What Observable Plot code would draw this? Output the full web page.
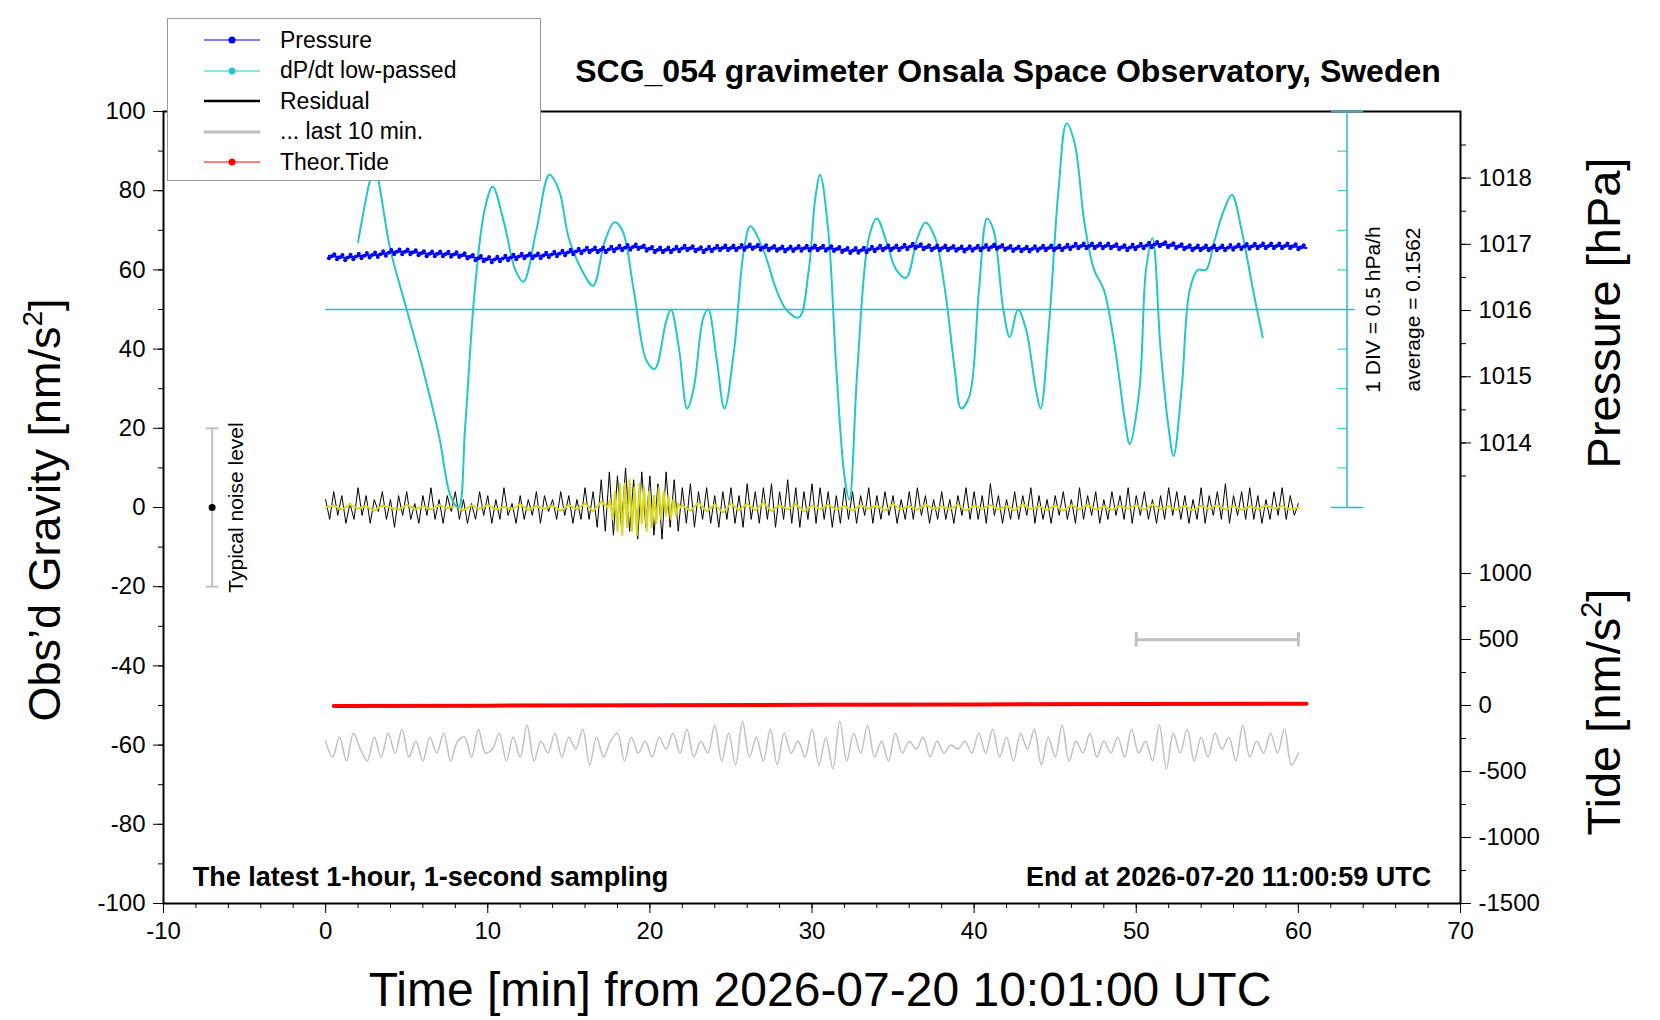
<!DOCTYPE html>
<html><head><meta charset="utf-8">
<script src="https://cdn.jsdelivr.net/npm/d3@7"></script>
<script src="https://cdn.jsdelivr.net/npm/@observablehq/plot@0.6"></script>
<style>
body{margin:0;background:#fff;font-family:"Liberation Sans",Arial,sans-serif;}
#wrap{position:relative;width:1660px;height:1020px;}
#legend{position:absolute;left:167px;top:18px;width:374px;height:163px;border:1px solid #999;background:#fff;box-sizing:border-box;font-size:23px;}
#legend .row{position:absolute;left:0;height:30px;display:flex;align-items:center;}
#legend svg{margin-left:36px;margin-right:20px;}
</style></head><body>
<div id="wrap"><div id="chart"></div>
<div id="legend"></div></div>
<script>
// ---- data ----
const dpdtTime=[2,2.7,3,4,5,6,7,7.7,8.2,8.6,9.2,9.8,10.3,11,11.7,12.2,13,13.8,14.4,15,15.8,16.5,17.2,17.8,18.3,19,19.8,20.3,21,21.3,21.8,22.3,22.7,23.3,23.6,24.1,24.6,25.2,25.8,26.2,27,27.8,28.4,29.2,29.8,30.2,30.5,31,31.5,32,32.3,32.8,33.5,34,34.6,35.2,35.8,36.5,37,37.6,38.2,38.8,39.2,39.7,40.3,40.8,41.2,41.8,42.2,42.7,43.2,43.8,44.1,44.6,45.2,45.7,46.2,46.8,47.4,48,48.7,49.3,49.6,50.2,50.6,51,51.5,52,52.3,52.8,53.3,53.8,54.3,54.8,55.4,55.9,56.5,57.2,57.8];
// dP/dt in plot units (10 units per division, average line at 50)
const dpdtDiv=[67,82,86,65,50,35,18,3,0,20,55,75,81,72,60,57,70,84,80,68,60,56,67,72,70,55,37,35,47,50,40,25,30,48,50,38,25,40,65,71,65,55,50,48,60,78,84,70,35,8,2,35,68,73,67,60,58,68,72,68,55,35,25,28,55,73,70,50,43,50,45,30,25,45,80,97,92,72,60,55,40,22,16,30,60,68,40,20,13,30,55,60,60,67,75,79,70,55,43];
const pressureHPa=[1016.826,1016.796,1016.826,1016.844,1016.886,1016.886,1016.856,1016.856,1016.844,1016.796,1016.766,1016.796,1016.826,1016.826,1016.856,1016.886,1016.916,1016.916,1016.946,1016.964,1016.916,1016.916,1016.946,1016.916,1016.946,1016.946,1016.964,1016.946,1016.928,1016.940,1016.946,1016.934,1016.904,1016.916,1016.946,1016.946,1016.976,1016.946,1016.946,1016.928,1016.946,1016.964,1016.934,1016.928,1016.946,1016.946,1016.976,1016.976,1016.976,1016.946,1016.976,1017.006,1016.976,1016.946,1016.946,1016.946,1016.964,1016.976,1016.976,1016.976,1016.946];
const residual=[2,-3,4,-2,3,-4,1,-3,5,-2,3,-4,2,-1,4,-3,2,-5,3,-2,
4,-3,1,-4,3,-2,5,-3,2,-4,3,-1,4,-3,2,-4,1,-3,4,-2,
3,-4,2,-3,5,-2,1,-4,3,-3,2,-2,4,-4,3,-1,2,-3,4,-2,
3,-4,2,-3,5,-3,4,-5,7,-6,9,-7,8,-5,10,-6,7,-8,9,-5,
8,-7,6,-8,9,-5,7,-6,5,-4,6,-5,4,-3,5,-4,3,-5,4,-3,
5,-4,3,-5,6,-3,4,-4,5,-3,6,-5,4,-3,7,-4,5,-5,4,-3,
6,-4,5,-3,4,-5,3,-4,5,-3,4,-4,3,-2,5,-4,3,-3,4,-2,
3,-4,2,-3,4,-3,5,-2,3,-4,2,-3,4,-3,2,-4,3,-2,5,-3,
4,-3,3,-4,6,-2,3,-4,2,-3,4,-3,3,-2,5,-4,3,-3,2,-4,
3,-2,4,-3,2,-4,5,-3,3,-2,4,-4,2,-3,4,-2,3,-3,5,-4,
3,-2,4,-3,2,-4,3,-3,5,-2,4,-3,3,-4,2,-3,5,-4,3,-2,
4,-3,6,-4,3,-2,4,-3,5,-3,3,-4,2,-3,4,-2,5,-3,3,-2,1];
const filtBefore=[0,0.5,-0.5,0.8,-0.3,0.4,-0.8,0.5,0,-0.6,0.7,-0.4,0.3,-0.5,0.6,-0.2,0.4,-0.7,0.5,-0.3,0.6,-0.5,0.2,-0.4,0.8,-0.6,0.3,-0.3,0.5,-0.8,0.6,-0.4,1,-1,1.5];
const filtBurst=[0,2,-3,4,-6,6,-7,6,-5,7,-6,5,-7,6,-4,5,-6,4,-5,3,-4,5,-3,4,-2,3,-3,2,-2,1,0];
const filtAfter=[0.5,-0.8,1.2,-1,0.8,-1.3,1,-0.6,0.9,-0.7,1.2,-0.9,0.6,-0.5,0.8,-1,0.5,-0.4,0.7,-0.6,0.4,-0.8,0.6,-0.3,0.5,-0.7,0.9,-0.5,0.4,-0.6,0.8,-0.4,0.3,-0.5,0.7,-0.8,0.5,-0.3,0.6,-0.5,0.4,-0.7,0.8,-0.4,0.3,-0.6,0.5,-0.8,0.6,-0.4,0.7,-0.5,0.3,-0.6,0.4,-0.3,0.6,-0.5,0.8,-0.4,0.3,-0.6,0.5,-0.7,0.4,-0.3,0.6,-0.5,0.4,-0.6,0.3,-0.4,0.5,-0.3,0.4,-0.5,0];
const last10=[1,-3,2,-4,3,-1,-4,2,-3,3,-2,4,-3,1,-4,2,-2,3,-4,1,
2,-3,4,-2,-1,3,-4,2,-3,5,-4,1,-2,3,-3,2,-1,4,-5,2,
-3,1,3,-4,2,-2,1,-3,2,-1,3,-2,4,-3,1,-2,5,-4,3,-5,
6,-3,2,-4,4,-5,3,-2,1,-3,4,-5,2,-6,6,-4,3,-2,5,-3,
1,-4,3,-2,1,-1,2,-3,1,-2,0,-1,1,-2,3,-2,4,-3,2,-4,
3,-1,4,-5,2,-3,5,-4,1,-2,3,-3,1,-2,2,-3,4,-2,1,-4,
5,-6,3,-2,4,-4,2,-3,3,-1,2,-4,5,-3,1,-2,3,-2,4,-5,-2];
const tideTime=[0.5,10,20,30,40,50,60.5];
const tideNm=[-4,-1,2,5,8,11,14];
const pressureTicks=[1014,1015,1016,1017,1018];
const tideTicks=[-1500,-1000,-500,0,500,1000];

// ---- mappings to left-axis units ----
const pG=p=>16.3+(p-1014)*16.72;
const tG=t=>-50+t/30;
const hy=d=>String(d).replace("−","-");

const pres=pressureHPa.map((p,i)=>({x:0.2+i*(60.3/60),y:pG(p)}));
const presDots=[];
pres.forEach((d,i)=>{ if(i<pres.length-1){ for(let k=0;k<6;k++){const f=k/6;presDots.push({x:d.x+f*(pres[i+1].x-d.x),y:d.y+f*(pres[i+1].y-d.y)+((k%3)-1)*0.6});}}});
const dp=dpdtTime.map((t,i)=>({x:t,y:dpdtDiv[i]}));
const res=residual.map((v,i)=>({x:i*60/(residual.length-1),y:v}));
const filt=[...filtBefore.map((v,i)=>({x:i*0.5,y:v})),...filtBurst.map((v,i)=>({x:17.4+i*0.15,y:v})),...filtAfter.map((v,i)=>({x:22+i*0.5,y:v}))];
const gray=last10.map((v,i)=>({x:i*60/(last10.length-1),y:-60+v}));
const tide=tideTime.map((t,i)=>({x:t,y:tG(tideNm[i])}));

const F="Liberation Sans, Arial, sans-serif";
const divTicks=d3.range(10,100,10);
const chart=Plot.plot({
  width:1660,height:1020,marginLeft:163,marginRight:200,marginTop:111,marginBottom:117,
  style:{fontFamily:F,fontSize:"24px",background:"#fff"},
  x:{domain:[-10,70]},y:{domain:[-100,100]},
  marks:[
    Plot.axisX({ticks:d3.range(-10,71,10),tickSize:10,tickPadding:8,label:null,fontSize:24,tickFormat:hy}),
    Plot.axisX({ticks:d3.range(-10,71,2),tickSize:5,tickFormat:()=>"",label:null}),
    Plot.axisY({ticks:d3.range(-100,101,20),tickSize:10,tickPadding:8,label:null,fontSize:24,tickFormat:hy}),
    Plot.axisY({ticks:d3.range(-100,101,10),tickSize:5,tickFormat:()=>"",label:null}),
    Plot.axisY({anchor:"right",ticks:pressureTicks.map(pG),tickFormat:(d,i)=>String(pressureTicks[i]),tickSize:10,tickPadding:8,label:null,fontSize:24}),
    Plot.axisY({anchor:"right",ticks:d3.range(1013.5,1019,0.5).map(pG).filter(g=>g<100),tickSize:5,tickFormat:()=>"",label:null}),
    Plot.axisY({anchor:"right",ticks:tideTicks.map(tG),tickFormat:(d,i)=>String(tideTicks[i]),tickSize:10,tickPadding:8,label:null,fontSize:24}),
    Plot.axisY({anchor:"right",ticks:d3.range(-1500,1001,250).map(tG),tickSize:5,tickFormat:()=>"",label:null}),
    Plot.frame({stroke:"#000",strokeWidth:2}),
    Plot.ruleY([50],{x1:0,x2:63.5,stroke:"#20c0c0",strokeWidth:1.3}),
    Plot.ruleX([63],{y1:0,y2:100,stroke:"#20c0c0",strokeWidth:1.5}),
    Plot.link(divTicks,{x1:62.4,x2:63,y1:d=>d,y2:d=>d,stroke:"#20c0c0"}),
    Plot.link([0,100],{x1:62,x2:64,y1:d=>d,y2:d=>d,stroke:"#20c0c0",strokeWidth:1.5}),
    Plot.text(["1 DIV = 0.5 hPa/h"],{x:64.6,y:50,rotate:-90,fontSize:21,fill:"#000"}),
    Plot.text(["average = 0.1562"],{x:67.1,y:50,rotate:-90,fontSize:21,fill:"#000"}),
    Plot.line(gray,{x:"x",y:"y",stroke:"#c0c0c0",strokeWidth:1.5,curve:"catmull-rom"}),
    Plot.ruleY([-33.4],{x1:50,x2:60,stroke:"#c0c0c0",strokeWidth:3}),
    Plot.ruleX([50,60],{y1:-31.6,y2:-35.2,stroke:"#c0c0c0",strokeWidth:3}),
    Plot.ruleX([-7],{y1:-20,y2:20,stroke:"#c0c0c0",strokeWidth:2}),
    Plot.link([-20,20],{x1:-7.4,x2:-6.6,y1:d=>d,y2:d=>d,stroke:"#c0c0c0",strokeWidth:2}),
    Plot.dot([0],{x:-7,y:0,r:3.5,fill:"#000"}),
    Plot.text(["Typical noise level"],{x:-5.5,y:0,rotate:-90,fontSize:21}),
    Plot.line(res,{x:"x",y:"y",stroke:"#000",strokeWidth:1}),
    Plot.line(filt,{x:"x",y:"y",stroke:"#d8d820",strokeWidth:2}),
    Plot.line(dp,{x:"x",y:"y",curve:"catmull-rom",stroke:"#20c8c8",strokeWidth:2}),
    Plot.line(pres,{x:"x",y:"y",stroke:"#0000ff",strokeWidth:2}),
    Plot.dot(presDots,{x:"x",y:"y",r:2,fill:"#0000ff"}),
    Plot.line(tide,{x:"x",y:"y",stroke:"#ff0000",strokeWidth:4}),
    Plot.text(["The latest 1-hour, 1-second sampling"],{x:-8.2,y:-93.5,textAnchor:"start",fontSize:27,fontWeight:"bold"}),
    Plot.text(["End at 2026-07-20 11:00:59 UTC"],{x:68.2,y:-93.5,textAnchor:"end",fontSize:27,fontWeight:"bold"}),
  ]
});
document.getElementById("chart").appendChild(chart);
const svg=d3.select(chart);
svg.append("text").attr("x",1008).attr("y",82).attr("text-anchor","middle").attr("font-size",32).attr("font-weight","bold").attr("font-family",F).text("SCG_054 gravimeter Onsala Space Observatory, Sweden");
svg.append("text").attr("x",820).attr("y",1006).attr("text-anchor","middle").attr("font-size",48).attr("font-family",F).text("Time [min] from 2026-07-20 10:01:00 UTC");
const lt=svg.append("text").attr("transform","translate(60,510) rotate(-90)").attr("text-anchor","middle").attr("font-size",45).attr("font-family",F);
lt.append("tspan").text("Obs’d Gravity [nm/s");lt.append("tspan").attr("font-size",28).attr("dy",-18).text("2");lt.append("tspan").attr("dy",18).text("]");
svg.append("text").attr("transform","translate(1620,313) rotate(-90)").attr("text-anchor","middle").attr("font-size",47).attr("font-family",F).text("Pressure [hPa]");
const rt=svg.append("text").attr("transform","translate(1620,712) rotate(-90)").attr("text-anchor","middle").attr("font-size",47).attr("font-family",F);
rt.append("tspan").text("Tide [nm/s");rt.append("tspan").attr("font-size",29).attr("dy",-19).text("2");rt.append("tspan").attr("dy",19).text("]");
const items=[["Pressure","#0000ff",true,1],["dP/dt low-passed","#20c8c8",true,1],["Residual","#000",false,2.5],["... last 10 min.","#c0c0c0",false,3],["Theor.Tide","#ff0000",true,1]];
const L=document.getElementById("legend");
items.forEach((it,i)=>{const r=document.createElement("div");r.className="row";r.style.top=(6+i*30.5)+"px";
r.innerHTML=`<svg width="56" height="20"><line x1="0" x2="56" y1="10" y2="10" stroke="${it[1]}" stroke-width="${it[3]}"/>${it[2]?`<circle cx="28" cy="10" r="3.5" fill="${it[1]}"/>`:""}</svg><span>${it[0]}</span>`;L.appendChild(r);});
</script></body></html>
